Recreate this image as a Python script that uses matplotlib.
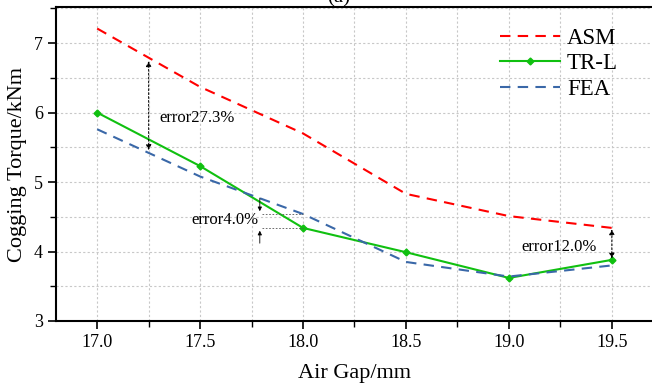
import matplotlib
matplotlib.use('Agg')
import matplotlib.pyplot as plt
from matplotlib.ticker import MultipleLocator

gap = [17.0, 17.5, 18.0, 18.5, 19.0, 19.5]
asm = [7.21, 6.37, 5.70, 4.83, 4.51, 4.34]
trl = [6.00, 5.23, 4.34, 3.99, 3.62, 3.88]
fea = [5.76, 5.08, 4.54, 3.85, 3.64, 3.80]

plt.rcParams['font.family'] = ['Liberation Serif', 'DejaVu Serif']

fig = plt.figure(figsize=(6.52, 3.86), dpi=100)
ax = fig.add_axes([56/652, 1-321/386, 597/652, 314/386])

ax.plot(gap, asm, color='#ff0000', ls=(0, (5, 3.5)), lw=1.5, label='ASM')
ax.plot(gap, trl, color='#10c010', lw=1.5, marker='D', ms=3.5, label='TR-L')
ax.plot(gap, fea, color='#3a68a8', ls=(0, (5, 3.5)), lw=1.5, label='FEA')

ax.set_xlim(16.8, 19.7)
ax.set_ylim(3, 7.52)
ax.xaxis.set_major_locator(MultipleLocator(0.5))
ax.xaxis.set_minor_locator(MultipleLocator(0.25))
ax.yaxis.set_major_locator(MultipleLocator(1))
ax.yaxis.set_minor_locator(MultipleLocator(0.5))
ax.set_xticks(gap)
ax.set_xticklabels(['%.1f' % g for g in gap])
ax.grid(True, which='both', color='#c8c8c8', ls=(0, (2, 2)), lw=0.8)
ax.tick_params(which='both', direction='out', labelsize=13)
ax.tick_params(which='major', length=6, width=1.2)
ax.tick_params(which='minor', length=4, width=1.0)
for s in ax.spines.values():
    s.set_linewidth(1.5)
ax.spines['right'].set_visible(False)

ax.set_ylabel('Cogging Torque/kNm', fontsize=16, labelpad=5)
ax.set_xlabel('Air Gap/mm', fontsize=16, labelpad=9)

ap = dict(arrowstyle='<|-|>', color='black', lw=0.7, ls=(0, (2, 2)), mutation_scale=8)
ax.annotate('', xy=(17.25, 6.78), xytext=(17.25, 5.42), arrowprops=ap)
ax.text(17.30, 5.86, 'error27.3%', fontsize=12)

# error 4.0%
ax.plot([17.8, 18.0], [4.54, 4.54], color='#555555', lw=0.6, ls=(0, (2, 2)))
ax.plot([17.8, 18.0], [4.34, 4.34], color='#555555', lw=0.6, ls=(0, (2, 2)))
ap1 = dict(arrowstyle='-|>', color='black', lw=0.6, mutation_scale=6)
ax.annotate('', xy=(17.79, 4.54), xytext=(17.79, 4.81), arrowprops=ap1)
ax.annotate('', xy=(17.79, 4.34), xytext=(17.79, 4.08), arrowprops=ap1)
ax.text(17.46, 4.40, 'error4.0%', fontsize=12)

ax.annotate('', xy=(19.5, 4.36), xytext=(19.5, 3.86), arrowprops=ap)
ax.text(19.06, 4.01, 'error12.0%', fontsize=12)

ax.legend(loc='upper left', bbox_to_anchor=(0.71, 1.0), frameon=False, fontsize=16.5,
          handlelength=2.6, handletextpad=0.3, labelspacing=0.2)

fig.text(0.52, 1.005, '(a)', fontsize=15, ha='center', va='center')

fig.savefig('out.png', dpi=100)
